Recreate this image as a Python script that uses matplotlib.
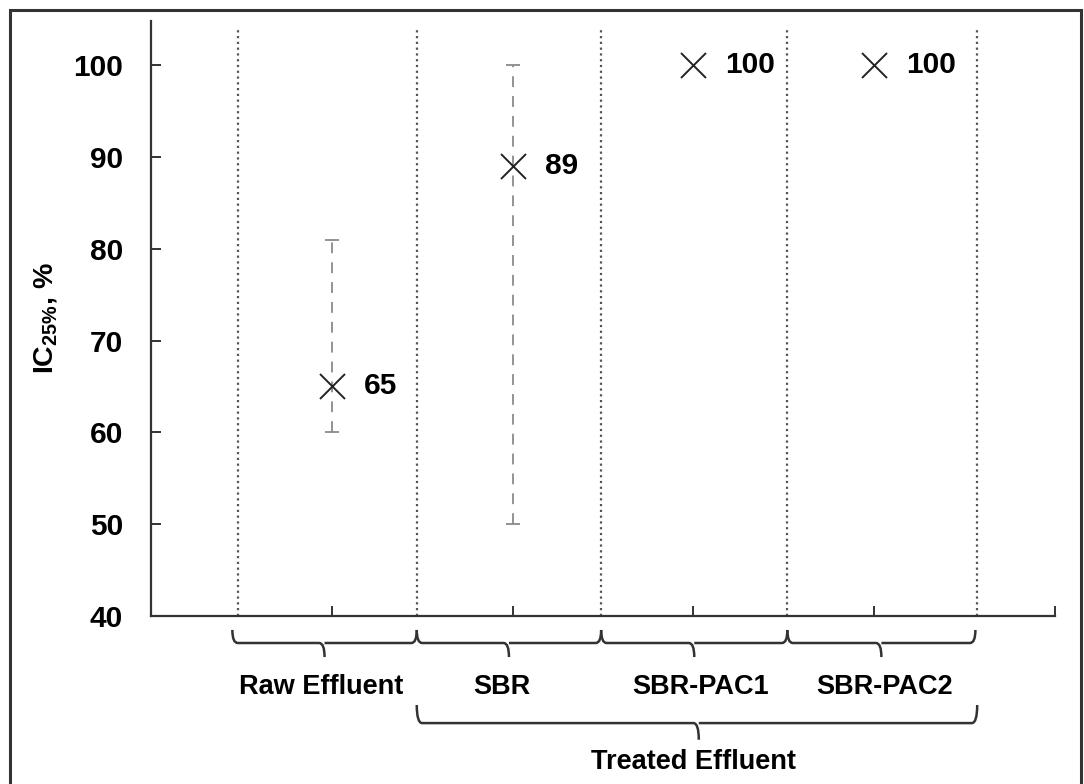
import matplotlib
matplotlib.use("Agg")
import matplotlib.pyplot as plt
from matplotlib.path import Path
from matplotlib.patches import PathPatch, Rectangle

plt.rcParams['font.family'] = ['Liberation Sans', 'DejaVu Sans']
plt.rcParams['font.weight'] = 'bold'
plt.rcParams['mathtext.fontset'] = 'custom'
plt.rcParams['mathtext.rm'] = 'Liberation Sans:bold'
plt.rcParams['mathtext.default'] = 'regular'

# Data
categories = ["Raw Effluent", "SBR", "SBR-PAC1", "SBR-PAC2"]
ic25 = [65, 89, 100, 100]
err_low = [60, 50, None, None]
err_high = [81, 100, None, None]
group_label = "Treated Effluent"

x = [1, 2, 3, 4]
separators = [0.48, 1.47, 2.49, 3.52, 4.57]

fig = plt.figure(figsize=(10.84, 7.84), dpi=100)
ax = fig.add_axes([0.1393, 0.2143, 0.8339, 0.7589])

# frame around the figure
fig.patches.append(Rectangle((10 / 1084, -0.05), 1071 / 1084, 1 - 10 / 784 + 0.05,
                             transform=fig.transFigure, fill=False,
                             edgecolor='#333333', lw=2.2, clip_on=False))

# dotted separators
ax.vlines(separators, 40, 103.8, colors='#555555', linestyles=(0, (1, 1.6)), lw=1.6)

# error bars (dashed)
for xi, yi, lo, hi in zip(x, ic25, err_low, err_high):
    if lo is None:
        continue
    eb = ax.errorbar(xi, yi, yerr=[[yi - lo], [hi - yi]], fmt='none',
                     ecolor='#8a8a8a', elinewidth=1.3, capsize=5, capthick=1.3)
    eb[2][0].set_linestyle((0, (6, 5)))

# markers and value labels
ax.plot(x, ic25, linestyle='none', marker='x', markersize=18, mew=1.4, color='#222222')
for xi, yi in zip(x, ic25):
    ax.annotate(f"{yi}", (xi, yi), xytext=(23, 0), textcoords='offset points',
                ha='left', va='center', fontsize=21.5, fontweight='bold')

ax.set_xlim(0, 5)
ax.set_ylim(40, 104.8)
ax.set_yticks([40, 50, 60, 70, 80, 90, 100])
ax.set_xticks([1, 2, 3, 4, 5])
ax.set_xticklabels([])
ax.tick_params(axis='both', direction='in', length=7, width=1.4, color='#333333')
ax.tick_params(axis='y', labelsize=21.5, pad=20)
for lab in ax.get_yticklabels():
    lab.set_fontweight('bold')
ax.spines['top'].set_visible(False)
ax.spines['right'].set_visible(False)
for s in ['left', 'bottom']:
    ax.spines[s].set_color('#333333')
    ax.spines[s].set_linewidth(1.6)

ax.set_ylabel("IC$_{25\\%}$, %", fontsize=20.5, fontweight='bold', labelpad=10)


def brace(x0, x1, ytop, yh, ytip, xm=None, dx=0.03):
    if xm is None:
        xm = (x0 + x1) / 2
    verts = [(x0, ytop), (x0, yh), (x0 + dx, yh),
             (xm - dx, yh), (xm, yh), (xm, ytip),
             (xm, yh), (xm + dx, yh),
             (x1 - dx, yh), (x1, yh), (x1, ytop)]
    codes = [Path.MOVETO, Path.CURVE3, Path.CURVE3,
             Path.LINETO, Path.CURVE3, Path.CURVE3,
             Path.MOVETO, Path.LINETO,
             Path.LINETO, Path.CURVE3, Path.CURVE3]
    ax.add_patch(PathPatch(Path(verts, codes), transform=ax.get_xaxis_transform(),
                           fill=False, edgecolor='#333333', lw=1.8, clip_on=False))


# first-level braces
spans = [(0.45, 1.47), (1.47, 2.49), (2.49, 3.52), (3.52, 4.56)]
label_x = [0.94, 1.94, 3.04, 4.06]
for (x0, x1), lx, name in zip(spans, label_x, categories):
    brace(x0, x1, -0.0235, -0.0454, -0.069)
    ax.text(lx, -0.12, name, transform=ax.get_xaxis_transform(),
            ha='center', va='center', fontsize=19.5, fontweight='bold')

# second-level brace
brace(1.47, 4.57, -0.1496, -0.18, -0.208, xm=3.03)
ax.text(3.0, -0.245, group_label, transform=ax.get_xaxis_transform(),
        ha='center', va='center', fontsize=19.5, fontweight='bold')

fig.savefig("out.png", dpi=100)
